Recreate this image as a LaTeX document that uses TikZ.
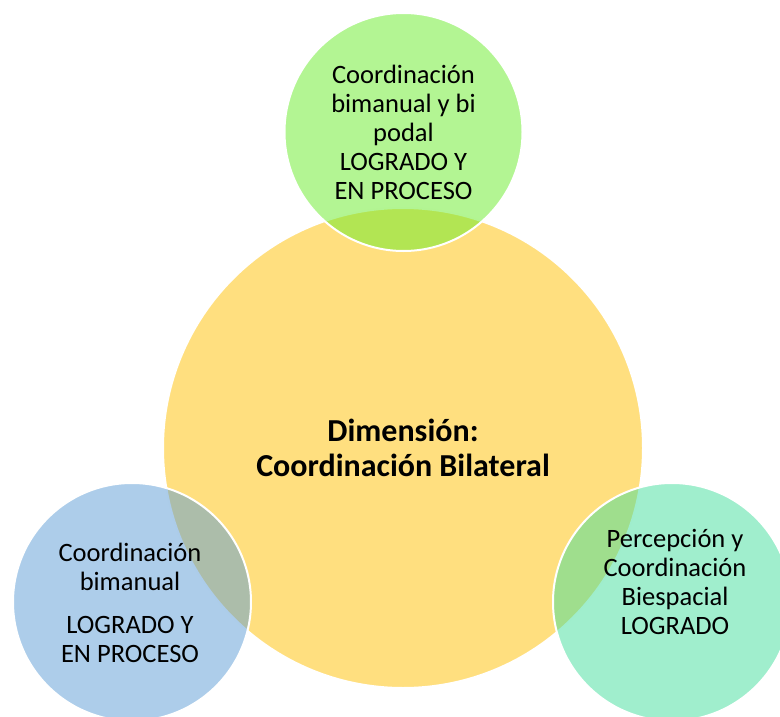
\documentclass[tikz,border=0pt]{standalone}
\usepackage{fontspec}
\setmainfont{Carlito}
\definecolor{yelbase}{HTML}{FFC000}
\definecolor{grnbase}{RGB}{103,235,39}
\definecolor{blubase}{HTML}{5B9BD5}
\definecolor{tealbase}{RGB}{65,221,155}
\begin{document}
\begin{tikzpicture}[x=1pt,y=-1pt,
  bub/.style={circle, inner sep=0pt, outer sep=0pt, draw=white, line width=2pt, fill opacity=0.5},
  lbl/.style={align=center, font=\fontsize{26.5}{29}\selectfont, text=black, inner sep=0pt}]
\useasboundingbox (0,0) rectangle (780,717);
\node[bub, fill=yelbase, minimum size=480pt] (main) at (403,448) {};
\node[bub, fill=grnbase, minimum size=238pt] (top) at (403.5,132) {};
\node[bub, fill=blubase, minimum size=238pt] (left) at (132,602) {};
\node[bub, fill=tealbase, minimum size=238pt] (right) at (672,602) {};
\node[lbl, font=\fontsize{32}{35}\selectfont\bfseries] (maintxt) at (403,448) {Dimensión:\\Coordinación Bilateral};
\node[lbl] (toptxt) at (403.5,132) {Coordinación\\bimanual y bi\\podal\\LOGRADO Y\\EN PROCESO};
\node[lbl] (lefttxt) at (130,603) {Coordinación\\bimanual\\[14pt]LOGRADO Y\\EN PROCESO};
\node[lbl] (righttxt) at (675,582) {Percepción y\\Coordinación\\Biespacial\\LOGRADO};
\end{tikzpicture}
\end{document}
